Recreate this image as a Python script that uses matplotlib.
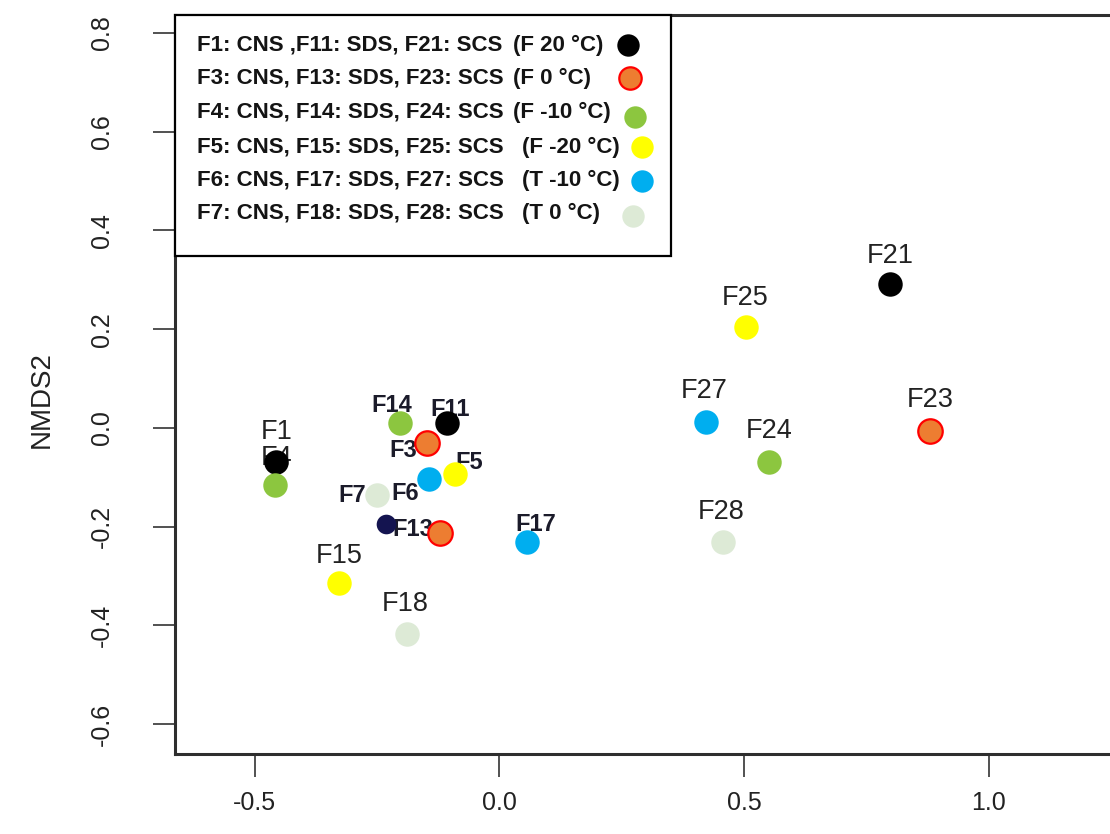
import matplotlib
matplotlib.use('Agg')
import matplotlib.pyplot as plt
from matplotlib.patches import Rectangle

# NMDS scores
names = ['F1', 'F4', 'F14', 'F11', 'F3', 'F5', 'F6', 'F7', 'F13', 'F17',
         'F15', 'F18', 'F21', 'F25', 'F27', 'F24', 'F23', 'F28', '']
nmds1 = [-0.456, -0.459, -0.204, -0.107, -0.148, -0.090, -0.144, -0.250, -0.122, 0.056,
         -0.328, -0.189, 0.799, 0.503, 0.423, 0.551, 0.881, 0.457, -0.231]
nmds2 = [-0.068, -0.116, 0.011, 0.011, -0.030, -0.093, -0.104, -0.136, -0.212, -0.232,
         -0.315, -0.418, 0.292, 0.205, 0.013, -0.068, -0.006, -0.232, -0.195]
groups = ['F20', 'F-10', 'F-10', 'F20', 'F0', 'F-20', 'T-10', 'T0', 'F0', 'T-10',
          'F-20', 'T0', 'F20', 'F-20', 'T-10', 'F-10', 'F0', 'T0', 'other']

group_order = ['F20', 'F0', 'F-10', 'F-20', 'T-10', 'T0']
legend_main = ['F1: CNS ,F11: SDS, F21: SCS',
               'F3: CNS, F13: SDS, F23: SCS',
               'F4: CNS, F14: SDS, F24: SCS',
               'F5: CNS, F15: SDS, F25: SCS',
               'F6: CNS, F17: SDS, F27: SCS',
               'F7: CNS, F18: SDS, F28: SCS']
legend_temp = ['(F 20 °C)', '(F 0 °C)', '(F -10 °C)', '(F -20 °C)', '(T -10 °C)', '(T 0 °C)']

xticks = [-0.5, 0.0, 0.5, 1.0]
yticks = [-0.6, -0.4, -0.2, 0.0, 0.2, 0.4, 0.6, 0.8]

# styles
face = {'F20': '#000000', 'F0': '#ED7D31', 'F-10': '#8CC63F', 'F-20': '#FFFF00',
        'T-10': '#00AEEF', 'T0': '#DDEAD6', 'other': '#141450'}
edge = {'F0': '#FF0000'}
bold_labels = {'F14': (-8, 17), 'F11': (3, 13), 'F3': (-24, -8), 'F5': (14, 11),
               'F6': (-24, -14), 'F7': (-25, 0), 'F13': (-27, 3), 'F17': (9, 18)}
plain_offsets = {'F4': (2, 27), 'F15': (0, 27), 'F21': (0, 28), 'F25': (0, 29),
                 'F27': (-2, 31), 'F24': (0, 31), 'F23': (0, 31), 'F28': (-2, 30),
                 'F18': (-2, 30)}

W, H = 1110, 834
AX_L, AX_T, AX_B, AX_R = 175, 15, 754, 1136


def to_axes(x, y):
    # pixel position (from top-left of the image) to axes fraction
    return (x - AX_L) / (AX_R - AX_L), (AX_B - y) / (AX_B - AX_T)


fig = plt.figure(figsize=(W / 100, H / 100), dpi=100)
ax = fig.add_axes([AX_L / W, (H - AX_B) / H, (AX_R - AX_L) / W, (AX_B - AX_T) / H])
ax.set_xlim(-0.663, 1.301)
ax.set_ylim(-0.6605, 0.8365)

for sp in ax.spines.values():
    sp.set_linewidth(2.2)
    sp.set_color('#2e2e2e')

ax.set_xticks(xticks)
ax.set_xticklabels(['%.1f' % v for v in xticks])
ax.set_yticks(yticks)
ax.set_yticklabels(['%.1f' % v for v in yticks], rotation=90, va='center')
ax.tick_params(axis='x', length=16.5, width=1.1, pad=10.3, labelsize=18,
               colors='#222222')
ax.tick_params(axis='y', length=15.8, width=1.1, pad=27.9, labelsize=18,
               colors='#222222')
for lab in ax.get_xticklabels() + ax.get_yticklabels():
    lab.set_family('Liberation Sans')

ax.set_ylabel('NMDS2', fontsize=20, family='Liberation Sans', color='#222222')
ax.yaxis.set_label_coords(-0.1249, 0.479)

# points
for n, x, y, g in zip(names, nmds1, nmds2, groups):
    size = 200 if g == 'other' else 310
    ax.scatter(x, y, s=size, color=face[g], edgecolors=edge.get(g, face[g]),
               linewidths=1.6 if g in edge else 0, zorder=3)
    if not n:
        continue
    if n in bold_labels:
        ax.annotate(n, (x, y), xytext=bold_labels[n], textcoords='offset pixels',
                    ha='center', va='center', fontsize=17, fontweight='bold',
                    family='Liberation Sans', color='#1b1b2a', zorder=2)
    else:
        ax.annotate(n, (x, y), xytext=plain_offsets.get(n, (0, 30)),
                    textcoords='offset pixels', ha='center', va='center',
                    fontsize=19.5, family='Liberation Sans', color='#222222', zorder=2)

# legend box drawn by hand to keep its loose layout
x0, y0 = to_axes(AX_L, 256)
x1, _ = to_axes(671, 256)
ax.add_patch(Rectangle((x0, y0), x1 - x0, 1 - y0, transform=ax.transAxes,
                       facecolor='white', edgecolor='black', linewidth=1.6,
                       zorder=4, clip_on=False))
row_y = [45, 78, 112, 147, 180, 213]
temp_x = [513, 513, 513, 522, 522, 522]
mark_xy = [(628, 45), (630, 78), (635, 117), (642, 147), (642, 181), (633, 216)]
for i, g in enumerate(group_order):
    tx, ty = to_axes(197, row_y[i])
    ax.text(tx, ty, legend_main[i], transform=ax.transAxes, ha='left', va='center',
            fontsize=16, fontweight='bold', family='Liberation Sans',
            color='#141414', zorder=5)
    tx, ty = to_axes(temp_x[i], row_y[i])
    ax.text(tx, ty, legend_temp[i], transform=ax.transAxes, ha='left', va='center',
            fontsize=16, fontweight='bold', family='Liberation Sans',
            color='#141414', zorder=5)
    mx, my = to_axes(*mark_xy[i])
    ax.scatter(mx, my, s=260, color=face[g], edgecolors=edge.get(g, face[g]),
               linewidths=1.6 if g in edge else 0, transform=ax.transAxes,
               zorder=6, clip_on=False)

fig.savefig('out.png', dpi=100)
